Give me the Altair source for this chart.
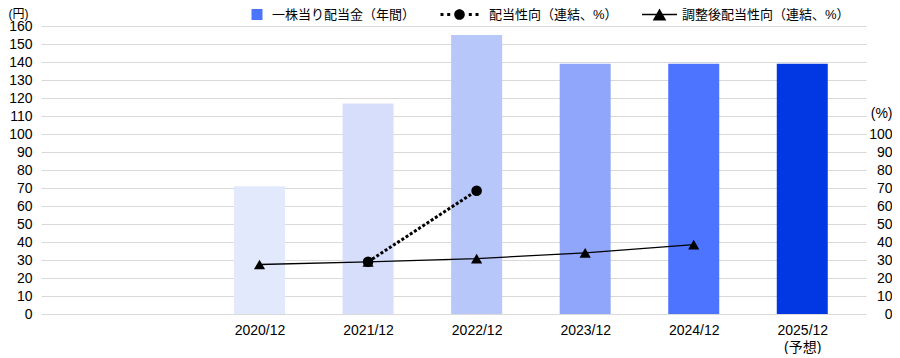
import json
import altair as alt
import pandas as pd

# ---------------- data ----------------
categories = ["2020/12", "2021/12", "2022/12", "2023/12", "2024/12", "2025/12"]
forecast_note = "(予想)"
dividend = [71, 117, 155, 139, 139, 139]                 # 円
payout = [None, 29.0, 68.5, None, None, None]            # %
adjusted = [27.5, 29.0, 30.8, 34.0, 38.5, None]          # %
series_names = ["一株当り配当金（年間）", "配当性向（連結、%）", "調整後配当性向（連結、%）"]
left_ticks = list(range(0, 161, 10))
right_ticks = list(range(0, 101, 10))

# ---------------- styles ----------------
bar_colors = ["#e3e9fc", "#d6defb", "#b8c7fa", "#8fa6fa", "#4d74ff", "#0238e3"]
legend_colors = ["#4d74ff", "#000000", "#000000"]
FONT = "Liberation Sans, Arial, Noto Sans CJK JP, sans-serif"

bars_df = pd.DataFrame({"idx": list(range(len(categories))), "category": categories, "dividend": dividend})
rows = []
for name, vals in ((series_names[2], adjusted), (series_names[1], payout)):
    for i, v in enumerate(vals):
        if v is not None:
            rows.append({"idx": i, "series": name, "value": v})
lines_df = pd.DataFrame(rows)

tick_labels = categories[:-1] + [[categories[-1], forecast_note]]
label_expr = json.dumps(tick_labels, ensure_ascii=False) + "[datum.value]"

x_scale = alt.Scale(domain=[-2.013, 5.587], nice=False, zero=False, padding=0)
x_axis = alt.Axis(values=list(range(len(categories))), labelExpr=label_expr, title=None,
                  grid=False, domain=False, ticks=False, labelPadding=9, labelFont=FONT,
                  labelFontSize=14, labelColor="#000", labelLineHeight=17, labelAngle=0,
                  labelBaseline="top", labelFlush=False, labelOverlap=False)

y_left = alt.Scale(domain=[0, 160], nice=False, zero=True)
y_right = alt.Scale(domain=[0, 160], nice=False, zero=True)

left_axis = alt.Axis(orient="left", values=left_ticks, title="(円)", titleAngle=0, titleX=-33,
                     titleY=-12.6, titleAlign="left", titleBaseline="middle", titleFont=FONT,
                     titleFontSize=12, titleFontWeight="normal", titleColor="#000",
                     labelFont=FONT, labelFontSize=14, labelColor="#000", labelPadding=9,
                     grid=True, gridColor="#d9d9d9", gridWidth=1, domain=False, ticks=False,
                     labelFlush=False, labelOverlap=False)
right_axis = alt.Axis(orient="right", values=right_ticks, title="(%)", titleAngle=0, titleX=26,
                      titleY=87, titleAlign="right", titleBaseline="middle", titleFont=FONT,
                      titleFontSize=14, titleFontWeight="normal", titleColor="#000",
                      labelFont=FONT, labelFontSize=14, labelColor="#000", labelAlign="right",
                      labelPadding=26, grid=False, domain=False, ticks=False, tickSize=0,
                      labelFlush=False, labelOverlap=False)

# legend symbol paths (pixel geometry relative to each legend symbol slot centre)
U = 17.0  # px per path unit for symbol size 34*34


def f(v):
    return f"{v / U:.4f}"


def rect(x0, y0, x1, y1):
    return f"M{f(x0)},{f(y0)}H{f(x1)}V{f(y1)}H{f(x0)}Z"


def circle(cx, r):
    return (f"M{f(cx - r)},0A{f(r)},{f(r)} 0 1,0 {f(cx + r)},0"
            f"A{f(r)},{f(r)} 0 1,0 {f(cx - r)},0Z")


square_path = rect(-3.5, -5.5, 7.5, 5.5)
c2 = -12.5
dotted_path = circle(c2, 5.3) + "".join(rect(c2 + d - 1.5, -1.5, c2 + d + 1.5, 1.5)
                                        for d in (-17.5, -10.8, 10.8, 17.5))
c3 = -5.5
tri_path = (rect(c3 - 17.5, -0.7, c3 + 17.5, 0.7)
            + f"M{f(c3)},{f(-6)}L{f(c3 + 6.8)},{f(6)}L{f(c3 - 6.8)},{f(6)}Z")

shape_expr = (f"datum.value === '{series_names[0]}' ? '{square_path}' : "
              f"datum.value === '{series_names[1]}' ? '{dotted_path}' : '{tri_path}'")
legend_label_expr = f"datum.value === '{series_names[0]}' ? datum.label + '\u3000\u3000' : datum.label"

legend = alt.Legend(title=None, orient="none", legendX=197, legendY=-28.5, direction="horizontal",
                    columns=3, columnPadding=24, labelOffset=0, labelFont=FONT, labelFontSize=13,
                    labelColor="#000", labelLimit=400, symbolSize=1156, symbolStrokeWidth=0,
                    symbolOpacity=1, padding=0, symbolType=alt.ExprRef(expr=shape_expr),
                    labelExpr=legend_label_expr)

X = alt.X("idx:Q", scale=x_scale, axis=x_axis)

bars = alt.Chart(bars_df).mark_bar(size=51, orient="vertical").encode(
    x=X,
    y=alt.Y("dividend:Q", scale=y_left, axis=left_axis),
    color=alt.Color("category:N", scale=alt.Scale(domain=categories, range=bar_colors), legend=None),
)

Yr = alt.Y("value:Q", scale=y_right, axis=right_axis)

adj_line = alt.Chart(lines_df).transform_filter(alt.datum.series == series_names[2]).mark_line(
    color="black", strokeWidth=1.3).encode(x=X, y=Yr)
pay_line = alt.Chart(lines_df).transform_filter(alt.datum.series == series_names[1]).mark_line(
    color="black", strokeWidth=3, strokeDash=[3, 2]).encode(x=X, y=Yr)
points = alt.Chart(lines_df).mark_point(filled=True, opacity=1, strokeWidth=0).encode(
    x=X, y=Yr,
    color=alt.Color("series:N", scale=alt.Scale(domain=series_names, range=legend_colors), legend=legend),
    shape=alt.Shape("series:N", scale=alt.Scale(domain=series_names,
                                                range=["square", "circle", "triangle-up"]),
                    legend=None),
    size=alt.Size("series:N", scale=alt.Scale(domain=series_names, range=[100, 125, 175]), legend=None),
)

right = alt.layer(adj_line, pay_line, points)

chart = alt.layer(bars, right).resolve_scale(y="independent", color="independent").properties(
    width=825, height=288,
    padding={"left": 33, "top": 18, "right": 26, "bottom": 40},
    autosize=alt.AutoSizeParams(type="none"),
).configure_view(stroke=None)

chart.save("out.html", embed_options={"renderer": "svg", "actions": False})
